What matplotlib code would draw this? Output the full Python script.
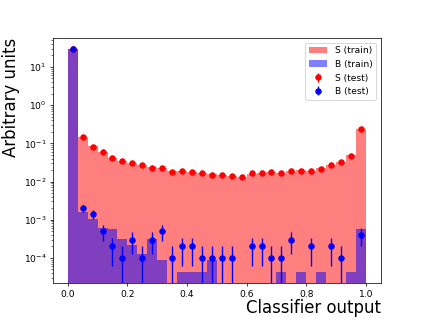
import numpy as np
import matplotlib
matplotlib.use("Agg")
import matplotlib.pyplot as plt

# 30 equal bins on [0, 1]
bin_edges = np.linspace(0.0, 1.0, 31)

s_train = [29.0, 0.145, 0.086, 0.058, 0.042, 0.035, 0.031, 0.027, 0.024, 0.022,
           0.019, 0.019, 0.018, 0.0165, 0.0155, 0.015, 0.014, 0.0132, 0.016, 0.017,
           0.0175, 0.0166, 0.019, 0.0195, 0.019, 0.022, 0.027, 0.033, 0.049, 0.24]
b_train = [29.9, 1.6e-3, 1.05e-3, 6.0e-4, 5.6e-4, 3.1e-4, 2.2e-4, 1.3e-4, 3.1e-4, 8.7e-5,
           0, 4.4e-5, 4.4e-5, 4.4e-5, 8.7e-5, 0, 0, 0, 0, 0,
           0, 4.4e-5, 0, 4.4e-5, 0, 4.4e-5, 0, 0, 4.4e-5, 5.8e-4]

s_test = [29.0, 0.144, 0.082, 0.059, 0.041, 0.035, 0.031, 0.027, 0.023, 0.0223,
          0.0182, 0.0189, 0.0178, 0.0165, 0.0152, 0.0152, 0.0138, 0.0130, 0.0165, 0.0171,
          0.0177, 0.0165, 0.0189, 0.0193, 0.0189, 0.0218, 0.0272, 0.0326, 0.0468, 0.238]
s_test_err = [0.05, 0.003, 0.002, 0.0018, 0.0015, 0.0014, 0.0013, 0.0012, 0.0011, 0.0011,
              0.001, 0.001, 0.001, 0.001, 0.0009, 0.0009, 0.0009, 0.0009, 0.001, 0.001,
              0.001, 0.001, 0.001, 0.001, 0.001, 0.0011, 0.0012, 0.0014, 0.0016, 0.004]

b_test = [29.6, 2.0e-3, 1.4e-3, 5e-4, 2e-4, 1e-4, 3e-4, 1e-4, 3e-4, 5e-4,
          1e-4, 2e-4, 2e-4, 1e-4, 1e-4, 1e-4, 1e-4, 0, 2e-4, 2e-4,
          1e-4, 1e-4, 3e-4, 0, 2e-4, 0, 2e-4, 1e-4, 0, 4e-4]
b_test_err = [0.055, 4.5e-4, 3.7e-4, 2.2e-4, 1.4e-4, 1e-4, 1.7e-4, 1e-4, 1.7e-4, 2.2e-4,
              1e-4, 1.4e-4, 1.4e-4, 1e-4, 1e-4, 1e-4, 1e-4, 0, 1.4e-4, 1.4e-4,
              1e-4, 1e-4, 1.7e-4, 0, 1.4e-4, 0, 1.4e-4, 1e-4, 0, 2e-4]


def plot():
    centers = 0.5 * (bin_edges[:-1] + bin_edges[1:])

    fig, ax = plt.subplots(figsize=(6.41, 4.82), dpi=66)

    # training samples as filled histograms
    ax.hist(centers, bins=bin_edges, weights=s_train, color='r', alpha=0.5,
            histtype='stepfilled', label='S (train)')
    ax.hist(centers, bins=bin_edges, weights=b_train, color='b', alpha=0.5,
            histtype='stepfilled', label='B (train)')

    # test samples as points with errors (empty bins are hidden)
    s_y = np.where(np.array(s_test) > 0, s_test, np.nan)
    b_y = np.where(np.array(b_test) > 0, b_test, np.nan)
    ax.errorbar(centers, s_y, yerr=s_test_err, fmt='o', color='r', label='S (test)')
    ax.errorbar(centers, b_y, yerr=b_test_err, fmt='o', color='b', label='B (test)')

    ax.set_yscale('log')
    ax.set_xlim(-0.05, 1.05)
    ax.set_ylim(2.2e-5, 57)

    ax.set_xlabel('Classifier output', loc='right', fontsize=18, labelpad=1)
    ax.set_ylabel('Arbitrary units', loc='top', fontsize=18, labelpad=4)
    ax.legend(loc='upper right')

    plt.savefig('out.png', dpi=66)


if __name__ == "__main__":
    plot()
